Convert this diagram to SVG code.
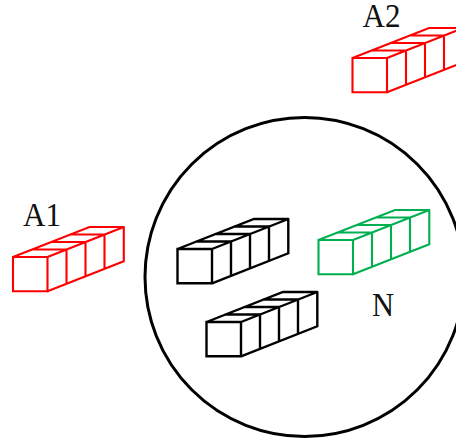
<svg xmlns="http://www.w3.org/2000/svg" width="456" height="439" viewBox="0 0 456 439">
<style>
.box{fill:none;stroke-linejoin:miter;stroke-miterlimit:2;stroke-linecap:round}
.r{stroke:#ff0000;stroke-width:2.100}
.g{stroke:#00b050;stroke-width:2.100}
.k{stroke:#000;stroke-width:2.400}
.t{font-family:"Liberation Serif",serif;font-size:34px;fill:#111}
</style>
<defs>
<path id="stack" d="M0 0H34.500V34.300H0ZM0 0L76.500 -30H110.800L34.500 0M34.500 34.300L110.800 4.300V-30M53.500 -7.500V26.800M72.500 -15V19.300M91.500 -22.500V11.800M19 -7.500H53.500M38 -15H72.500M57 -22.500H91.500"/>
</defs>
<rect width="456" height="439" fill="#fff"/>
<g id="network"><circle cx="304.500" cy="277" r="159.500" fill="none" stroke="#000" stroke-width="3"/></g>
<g id="a1"><use href="#stack" class="box r" x="13" y="257"/><text class="t" x="23" y="225.500" textLength="38" lengthAdjust="spacingAndGlyphs">A1</text></g>
<g id="a2"><use href="#stack" class="box r" x="352.500" y="58"/><text class="t" x="362.500" y="26.500" textLength="38" lengthAdjust="spacingAndGlyphs">A2</text></g>
<g id="n1"><use href="#stack" class="box k" x="177.500" y="249"/></g>
<g id="n2"><use href="#stack" class="box g" x="318.500" y="240"/></g>
<g id="n3"><use href="#stack" class="box k" x="206.500" y="322"/></g>
<g id="n"><text class="t" x="372" y="315.500" textLength="22" lengthAdjust="spacingAndGlyphs">N</text></g>
</svg>
